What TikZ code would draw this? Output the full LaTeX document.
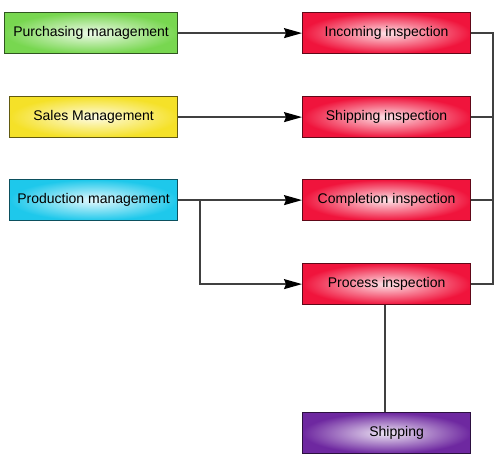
\documentclass[tikz,border=0pt]{standalone}
\usepackage{fontspec}
\setmainfont{Liberation Sans}
\usetikzlibrary{arrows.meta}
\begin{document}
\begin{tikzpicture}[x=1pt,y=-1pt,
  box/.style={draw=#1!40!black, line width=1.2pt, minimum width=168pt, minimum height=41pt,
    inner color=#1!12, outer color=#1, font=\fontsize{14}{16}\selectfont, anchor=north west},
  conn/.style={draw=black!75, line width=1.3pt},
  arr/.style={conn, -{Stealth[length=18pt,width=10pt,inset=2pt,fill=black,color=black]}}]
\useasboundingbox (0,0) rectangle (500,455);
\definecolor{gboxc}{RGB}{120,215,80}
\definecolor{yboxc}{RGB}{245,225,40}
\definecolor{cboxc}{RGB}{30,200,235}
\definecolor{rboxc}{RGB}{240,20,60}
\definecolor{pboxc}{RGB}{110,40,160}
\node[box=gboxc, minimum width=173pt] (pur) at (4,12) {Purchasing management};
\node[box=yboxc] (sal) at (9,96) {Sales Management};
\node[box=cboxc] (pro) at (9,179) {Production management};
\node[box=rboxc] (inc) at (302,12) {Incoming inspection};
\node[box=rboxc] (shi) at (302,96) {Shipping inspection};
\node[box=rboxc] (com) at (302,179) {Completion inspection};
\node[box=rboxc] (prc) at (302,263) {Process inspection};
\node[box=pboxc] (shp) at (302,412) {\hspace*{20pt}Shipping};
\coordinate (br) at (200,200);
\draw[arr] (pur) -- (inc);
\draw[arr] (sal) -- (shi);
\draw[arr] (pro.east) -- (com.west);
\draw[arr] (br) |- (prc.west);
\draw[conn] (inc.east) -| (493,0 |- prc.east) -- (prc.east);
\draw[conn] (shi.east) -- (shi.east -| 493,0);
\draw[conn] (com.east) -- (com.east -| 493,0);
\draw[conn] (prc.south -| 385,0) -- (shp.north -| 385,0);
\end{tikzpicture}
\end{document}
